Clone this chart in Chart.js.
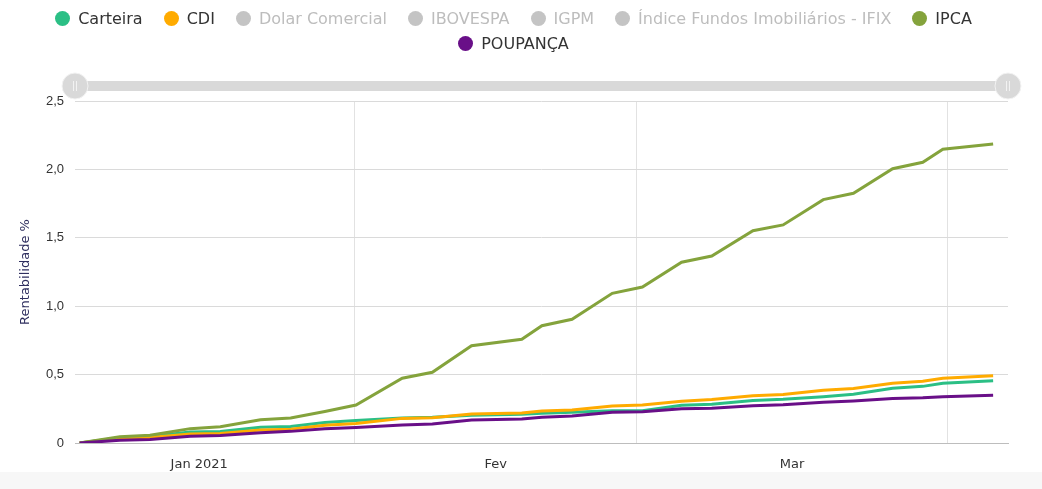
<!DOCTYPE html>
<html lang="pt-BR">
<head>
    <meta charset="UTF-8">
    <meta name="viewport" content="width=device-width, initial-scale=1.0">
    <title>Rentabilidade</title>
    <script src="https://cdn.jsdelivr.net/npm/chart.js"></script>
    <style>
        /* pagina com fundo cinza claro, caixa do grafico branca */
        body {
            margin: 0;
            background: #f7f7f7;
            font-family: "DejaVu Sans", sans-serif;
        }

        .caixa {
            position: relative;
            width: 1042px;
            height: 472px;
            background: #fff;
        }

        /* legenda em html, por cima do canvas */
        #legenda {
            position: absolute;
            top: 6px;
            left: 0;
            width: 1027px;
            display: flex;
            justify-content: center;
        }

        #legenda ul {
            list-style: none;
            margin: 0;
            padding: 0;
            max-width: 960px;
            display: flex;
            flex-wrap: wrap;
            justify-content: center;
            column-gap: 21px;
        }

        #legenda li {
            display: flex;
            align-items: center;
            height: 25px;
            font-size: 16px;
            color: #333;
            cursor: pointer;
        }

        #legenda li.off {
            color: #bdbdbd;
        }

        #legenda li span {
            width: 15px;
            height: 15px;
            border-radius: 50%;
            margin-right: 8px;
        }

        canvas {
            display: block;
        }
    </style>
</head>
<body>
    <div class="caixa">
        <canvas id="grafico" width="1042" height="472"></canvas>
        <div id="legenda"><ul></ul></div>
    </div>

    <script>
        // eixo x em dias desde 01/01/2021
        const dias = [3.6, 7.6, 10.6, 14.6, 17.6, 21.6, 24.6, 28.0, 31.1, 35.7, 38.7, 42.6, 47.6, 49.6,
                      52.6, 56.6, 59.6, 63.5, 66.5, 70.6, 73.6, 77.6, 80.6, 84.5, 87.5, 89.5, 94.5];

        // rentabilidade acumulada (%)
        const carteira = [0, 0.039, 0.048, 0.080, 0.084, 0.115, 0.120, 0.149, 0.165, 0.182, 0.188, 0.203, 0.210, 0.217,
                          0.224, 0.236, 0.236, 0.276, 0.284, 0.311, 0.319, 0.338, 0.357, 0.400, 0.414, 0.436, 0.455];
        const cdi = [0, 0.035, 0.040, 0.065, 0.070, 0.095, 0.100, 0.130, 0.142, 0.180, 0.185, 0.212, 0.220, 0.234,
                     0.241, 0.270, 0.278, 0.306, 0.318, 0.346, 0.355, 0.386, 0.398, 0.437, 0.451, 0.473, 0.492];
        const ipca = [0, 0.046, 0.056, 0.105, 0.119, 0.170, 0.183, 0.230, 0.278, 0.473, 0.517, 0.711, 0.758, 0.857,
                      0.904, 1.094, 1.140, 1.321, 1.367, 1.552, 1.594, 1.779, 1.825, 2.005, 2.052, 2.147, 2.186];
        const poupanca = [0, 0.020, 0.025, 0.050, 0.055, 0.075, 0.085, 0.105, 0.113, 0.132, 0.139, 0.168, 0.175, 0.188,
                          0.197, 0.224, 0.229, 0.250, 0.254, 0.272, 0.279, 0.298, 0.307, 0.325, 0.330, 0.338, 0.349];

        const series = ['Carteira', 'CDI', 'Dolar Comercial', 'IBOVESPA', 'IGPM',
                        'Índice Fundos Imobiliários - IFIX', 'IPCA', 'POUPANÇA'];
        const valores = [carteira, cdi, [], [], [], [], ipca, poupanca];
        const cores = ['#2bbf85', '#ffab00', '#c4c4c4', '#c4c4c4', '#c4c4c4', '#c4c4c4', '#84a33c', '#690f88'];

        // inicio de cada mes (fev, mar, abr) e meio dos meses para os rotulos
        const inicioMes = [31, 59, 90];
        const meioMes = [15.5, 45, 74.5];
        const rotulosMes = ['Jan 2021', 'Fev', 'Mar'];
        const xMin = 3.14, xMax = 95.98;

        const datasets = series.map((nome, i) => ({
            label: nome,
            data: valores[i].map((v, j) => ({ x: dias[j], y: v })),
            hidden: valores[i].length === 0,
            borderColor: cores[i],
            backgroundColor: cores[i],
            borderWidth: 3,
            pointRadius: 0,
            order: series.length - i
        }));

        // barra do navegador (slider) acima do grafico
        const navegador = {
            id: 'navegador',
            afterDraw(chart) {
                const { ctx, chartArea: { left, right } } = chart;
                const y = 86;
                ctx.save();
                ctx.fillStyle = '#d9d9d9';
                ctx.fillRect(left, y - 5, right - left, 10);
                [left, right].forEach(x => {
                    ctx.beginPath();
                    ctx.arc(x, y, 13, 0, Math.PI * 2);
                    ctx.fillStyle = '#d9d9d9';
                    ctx.fill();
                    ctx.strokeStyle = '#f2f2f2';
                    ctx.lineWidth = 1;
                    ctx.stroke();
                    ctx.beginPath();
                    ctx.moveTo(x - 1.5, y - 5); ctx.lineTo(x - 1.5, y + 5);
                    ctx.moveTo(x + 1.5, y - 5); ctx.lineTo(x + 1.5, y + 5);
                    ctx.stroke();
                });
                ctx.restore();
            }
        };

        const chart = new Chart(document.getElementById('grafico'), {
            type: 'line',
            data: { datasets },
            options: {
                responsive: false,
                animation: false,
                layout: { padding: { top: 101, right: 34, left: 0, bottom: 0 } },
                interaction: { mode: 'index', intersect: false },
                plugins: {
                    legend: { display: false }
                },
                scales: {
                    x: {
                        type: 'linear',
                        min: xMin,
                        max: xMax,
                        afterBuildTicks: s => {
                            s.ticks = inicioMes.concat(meioMes).sort((a, b) => a - b).map(v => ({ value: v }));
                        },
                        afterFit: s => { s.height = 29; },
                        ticks: {
                            autoSkip: false,
                            maxRotation: 0,
                            padding: 14,
                            color: '#333',
                            font: { family: 'DejaVu Sans', size: 13 },
                            callback: v => {
                                const k = meioMes.indexOf(v);
                                return k >= 0 ? rotulosMes[k] : '';
                            }
                        },
                        grid: {
                            drawTicks: false,
                            color: c => (c.tick && inicioMes.includes(c.tick.value)) ? '#e2e2e2' : 'rgba(0,0,0,0)'
                        },
                        border: { color: '#bdbdbd' }
                    },
                    y: {
                        min: 0,
                        max: 2.5,
                        afterFit: s => { s.width = 75; },
                        ticks: {
                            stepSize: 0.5,
                            padding: 11,
                            color: '#333',
                            font: { family: 'Liberation Sans', size: 13 },
                            callback: v => v === 0 ? '0' : v.toFixed(1).replace('.', ',')
                        },
                        grid: { color: '#dadada', drawTicks: false },
                        border: { display: false },
                        title: {
                            display: true,
                            text: 'Rentabilidade %',
                            color: '#2f2f5f',
                            font: { family: 'DejaVu Sans', size: 13 },
                            padding: { top: 18, bottom: 0 }
                        }
                    }
                }
            },
            plugins: [navegador]
        });

        // legenda html montada a partir dos datasets
        const lista = document.querySelector('#legenda ul');
        chart.data.datasets.forEach((ds, i) => {
            const li = document.createElement('li');
            if (ds.hidden) li.className = 'off';
            const bola = document.createElement('span');
            bola.style.background = ds.hidden ? '#c4c4c4' : ds.borderColor;
            li.appendChild(bola);
            li.appendChild(document.createTextNode(ds.label));
            lista.appendChild(li);
        });
    </script>
</body>
</html>
